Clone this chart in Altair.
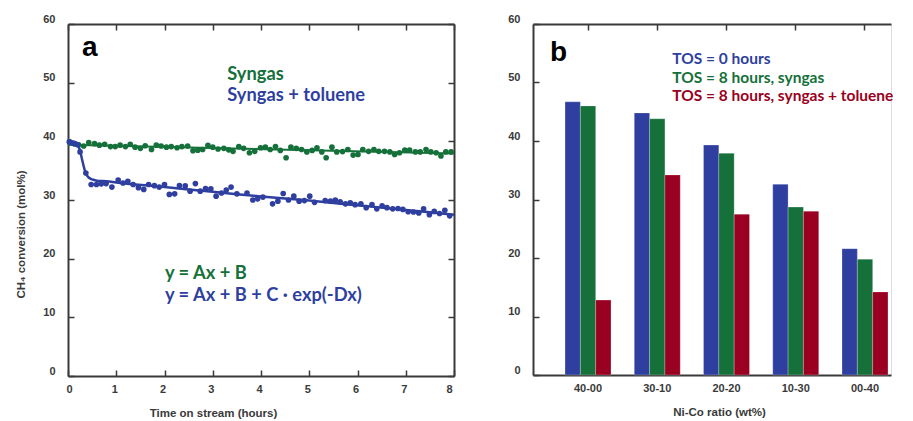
import altair as alt
import pandas as pd

BLUE = "#2F3F9F"
GREEN = "#15703A"
RED = "#9A0021"
AX = "#3a3a3a"

# ---------- panel a data ----------
syngas_t = [0.03, 0.13, 0.22, 0.325, 0.43, 0.55, 0.65, 0.76, 0.88, 0.98, 1.08, 1.19, 1.29, 1.39, 1.50,
            1.60, 1.73, 1.83, 1.93, 2.04, 2.14, 2.26, 2.36, 2.48, 2.59, 2.69, 2.79, 2.90, 3.00, 3.11,
            3.23, 3.33, 3.42, 3.54, 3.64, 3.76, 3.87, 3.99, 4.09, 4.19, 4.30, 4.40, 4.52, 4.62, 4.73,
            4.84, 4.95, 5.06, 5.16, 5.26, 5.35, 5.47, 5.57, 5.69, 5.80, 5.91, 6.01, 6.11, 6.23, 6.34,
            6.44, 6.56, 6.67, 6.77, 6.87, 6.98, 7.08, 7.20, 7.30, 7.42, 7.52, 7.63, 7.73, 7.83, 7.94]
syngas_v = [39.9, 39.6, 39.4, 39.2, 39.8, 39.6, 39.35, 39.5, 39.1, 39.1, 39.35, 39.1, 39.5, 39.0, 38.8,
            39.25, 38.6, 39.35, 39.2, 39.0, 39.1, 38.9, 39.1, 39.2, 38.4, 38.5, 38.6, 39.3, 39.0, 38.7,
            38.8, 38.55, 38.3, 39.1, 38.8, 38.05, 38.3, 38.9, 39.0, 38.6, 39.1, 38.45, 37.2, 39.0, 38.8,
            38.6, 38.2, 38.45, 38.9, 38.2, 37.2, 39.0, 38.2, 38.25, 38.6, 37.65, 37.75, 38.6, 38.3, 38.6,
            38.3, 38.3, 38.2, 37.75, 38.05, 38.5, 38.5, 38.2, 38.2, 38.6, 38.2, 38.05, 37.5, 38.2, 38.2]

toluene_t = [0.03, 0.08, 0.14, 0.19, 0.25, 0.37, 0.48, 0.59, 0.69, 0.79, 0.91, 1.04, 1.14, 1.24, 1.35,
             1.46, 1.57, 1.67, 1.79, 1.89, 2.00, 2.10, 2.21, 2.31, 2.43, 2.53, 2.64, 2.74, 2.85, 2.96,
             3.07, 3.18, 3.28, 3.38, 3.50, 3.71, 3.83, 3.93, 4.04, 4.24, 4.35, 4.46, 4.57, 4.68, 4.79,
             4.90, 5.01, 5.11, 5.33, 5.44, 5.54, 5.64, 5.75, 5.85, 5.95, 6.07, 6.18, 6.30, 6.40, 6.51,
             6.61, 6.73, 6.84, 6.94, 7.05, 7.16, 7.27, 7.37, 7.49, 7.59, 7.70, 7.81, 7.91]
toluene_v = [39.9, 39.75, 39.6, 39.45, 38.2, 34.6, 32.65, 32.65, 32.75, 32.8, 32.2, 33.4, 32.9, 33.2, 32.65,
             32.1, 31.8, 32.65, 32.45, 32.2, 32.65, 30.95, 31.05, 32.45, 32.4, 31.5, 32.8, 31.5, 31.95, 31.9,
             30.65, 31.2, 31.7, 32.2, 31.05, 31.2, 30.0, 30.2, 30.5, 29.35, 29.8, 31.1, 30.0, 30.65, 29.8,
             29.9, 30.65, 29.6, 29.9, 29.8, 30.0, 29.7, 29.35, 29.5, 29.2, 29.35, 28.7, 29.2, 28.5, 29.0,
             28.7, 28.5, 28.55, 28.4, 28.0, 27.95, 27.8, 28.5, 27.5, 28.05, 27.7, 28.25, 27.3]

# fitted curve (y = Ax + B + C exp(-Dx))
fit_t = [0.0, 0.1, 0.2, 0.25, 0.3, 0.35, 0.4, 0.5, 0.6, 0.8, 1.0, 2.0, 3.0, 4.0, 5.0, 6.0, 7.0, 8.0]
fit_v = [39.9, 39.7, 39.3, 38.4, 36.6, 35.0, 34.1, 33.5, 33.3, 33.2, 33.0, 32.2, 31.4, 30.6, 29.9, 29.1, 28.3, 27.5]

ann_a_text = ["Syngas", "Syngas + toluene", "y = Ax + B", "y = Ax + B + C \u00b7 exp(-Dx)"]
ann_a_t = [3.30, 3.30, 2.01, 2.01]
ann_a_v = [50.5, 46.85, 16.45, 12.8]
ann_a_col = [GREEN, BLUE, GREEN, BLUE]

# ---------- panel b data ----------
ratios = ["40-00", "30-10", "20-20", "10-30", "00-40"]
series_names = ["TOS = 0 hours", "TOS = 8 hours, syngas", "TOS = 8 hours, syngas + toluene"]
tos0 = [46.7, 44.8, 39.3, 32.6, 21.6]
tos8_syngas = [46.0, 43.8, 37.9, 28.7, 19.8]
tos8_toluene = [12.8, 34.2, 27.5, 28.0, 14.2]
leg_v = [53.2, 50.0, 46.9]

# ---------- tables ----------
df_syn = pd.DataFrame({"t": syngas_t, "v": syngas_v})
df_tol = pd.DataFrame({"t": toluene_t, "v": toluene_v})
df_fit = pd.DataFrame({"t": fit_t, "v": fit_v})
df_ann_a = pd.DataFrame({"t": ann_a_t, "v": ann_a_v, "label": ann_a_text, "col": ann_a_col})
df_letter_a = pd.DataFrame({"t": [0.29], "v": [54.5], "label": ["a"]})

rows = []
for i, r in enumerate(ratios):
    for s, vals in zip(series_names, [tos0, tos8_syngas, tos8_toluene]):
        rows.append({"ratio": r, "series": s, "value": vals[i]})
df_bars = pd.DataFrame(rows)
df_leg = pd.DataFrame({"ratio": ["30-10"] * 3, "value": leg_v, "label": series_names,
                       "col": [BLUE, GREEN, RED]})
df_letter_b = pd.DataFrame({"ratio": ["40-00"], "value": [53.7], "label": ["b"]})

FONT = "Liberation Sans"
ANN_FONT = "Lato"
INWARD = {"expr": "-6"}

base_axis = dict(labelFont=FONT, labelFontWeight="bold", labelFontSize=11, labelColor=AX,
                 domainColor=AX, domainWidth=2, tickColor=AX, tickWidth=1.5, tickSize=INWARD,
                 grid=False, titleFont=FONT, titleFontWeight="bold", titleFontSize=11.5,
                 titleColor=AX)

xs = alt.Scale(domain=[0, 8], nice=False)
ys = alt.Scale(domain=[0, 60], nice=False)

x_bottom = alt.Axis(values=list(range(0, 9)), labelPadding=13, labelOffset=-2,
                    title="Time on stream (hours)",
                    titleX=145, titleY=37, titleBaseline="middle", **base_axis)
y_left = alt.Axis(values=list(range(0, 61, 10)), labelPadding=19, labelOffset=-5,
                  title="CH\u2084 conversion (mol%)",
                  titleX=-42, titleY=210, **base_axis)
x_top = alt.Axis(orient="top", values=list(range(0, 9)), labels=False, title=None, **base_axis)
y_right = alt.Axis(orient="right", values=list(range(0, 61, 10)), labels=False, title=None, **base_axis)

green_pts = alt.Chart(df_syn).mark_circle(size=32, opacity=1, color=GREEN).encode(
    x=alt.X("t:Q", scale=xs, axis=x_bottom),
    y=alt.Y("v:Q", scale=ys, axis=y_left),
)
green_fit = alt.Chart(df_syn).transform_regression("t", "v", extent=[0, 8]).mark_line(
    color=GREEN, strokeWidth=2).encode(
    x=alt.X("t:Q", scale=xs, axis=None), y=alt.Y("v:Q", scale=ys, axis=None))
blue_pts = alt.Chart(df_tol).mark_circle(size=32, opacity=1, color=BLUE).encode(
    x=alt.X("t:Q", scale=xs, axis=None), y=alt.Y("v:Q", scale=ys, axis=None))
blue_fit = alt.Chart(df_fit).mark_line(color=BLUE, strokeWidth=2.5, interpolate="monotone").encode(
    x=alt.X("t:Q", scale=xs, axis=None), y=alt.Y("v:Q", scale=ys, axis=None))
frame_a = alt.Chart(df_fit).mark_point(opacity=0).encode(
    x=alt.X("t:Q", scale=xs, axis=x_top), y=alt.Y("v:Q", scale=ys, axis=y_right))
ann_a = alt.Chart(df_ann_a).mark_text(align="left", baseline="alphabetic", font=ANN_FONT,
                                       fontWeight="bold", fontSize=18.3).encode(
    x=alt.X("t:Q", scale=xs, axis=None), y=alt.Y("v:Q", scale=ys, axis=None),
    text="label:N", color=alt.Color("col:N", scale=None))
letter_a = alt.Chart(df_letter_a).mark_text(align="left", baseline="alphabetic", font=FONT,
                                             fontWeight="bold", fontSize=28, color="black").encode(
    x=alt.X("t:Q", scale=xs, axis=None), y=alt.Y("v:Q", scale=ys, axis=None), text="label:N")

panel_a = alt.layer(green_pts, green_fit, blue_fit, blue_pts, frame_a, ann_a, letter_a).resolve_axis(
    x="independent", y="independent").properties(width=386, height=352)

# ---------- panel b ----------
xb_scale = alt.Scale(domain=ratios, paddingInner=0.336, paddingOuter=0.253, align=0.914)
yb_scale = alt.Scale(domain=[0, 60], nice=False)
xb_bottom = alt.Axis(labelPadding=13, labelAngle=0, title="Ni-Co ratio (wt%)", titleY=37,
                     titleX=186, titleBaseline="middle", **base_axis)
yb_left = alt.Axis(values=list(range(0, 61, 10)), labelPadding=19, labelOffset=-5, title=None,
                   **base_axis)
xb_top = alt.Axis(orient="top", labels=False, title=None, **base_axis)

bars = alt.Chart(df_bars).mark_bar(stroke="white", strokeWidth=0.4, strokeOpacity=0.6).encode(
    x=alt.X("ratio:N", sort=ratios, scale=xb_scale, axis=xb_bottom),
    xOffset=alt.XOffset("series:N", sort=series_names,
                        scale=alt.Scale(paddingInner=0, paddingOuter=0)),
    y=alt.Y("value:Q", scale=yb_scale, axis=yb_left),
    color=alt.Color("series:N", sort=series_names,
                    scale=alt.Scale(domain=series_names, range=[BLUE, GREEN, RED]), legend=None),
)
frame_b = alt.Chart(df_bars).mark_point(opacity=0).encode(
    x=alt.X("ratio:N", sort=ratios, scale=xb_scale, axis=xb_top),
    y=alt.Y("value:Q", scale=yb_scale, axis=None))
leg_b = alt.Chart(df_leg).mark_text(align="left", baseline="alphabetic", font=ANN_FONT,
                                    fontWeight="bold", fontSize=15.5, dx=15).encode(
    x=alt.X("ratio:N", sort=ratios, scale=xb_scale, axis=None),
    y=alt.Y("value:Q", scale=yb_scale, axis=None),
    text="label:N", color=alt.Color("col:N", scale=None))
letter_b = alt.Chart(df_letter_b).mark_text(align="left", baseline="alphabetic", font=FONT,
                                             fontWeight="bold", fontSize=28, color="black", dx=-38).encode(
    x=alt.X("ratio:N", sort=ratios, scale=xb_scale, axis=None),
    y=alt.Y("value:Q", scale=yb_scale, axis=None), text="label:N")

panel_b = alt.layer(bars, frame_b, leg_b, letter_b).resolve_axis(
    x="independent", y="independent").properties(width=358, height=351)

chart = alt.hconcat(panel_a, panel_b, spacing=47).properties(
    padding={"left": 6, "top": 4, "right": 0, "bottom": 0}
).configure_view(stroke=None).configure(background="white")

chart.save("out.html", embed_options={"renderer": "svg", "actions": False})
